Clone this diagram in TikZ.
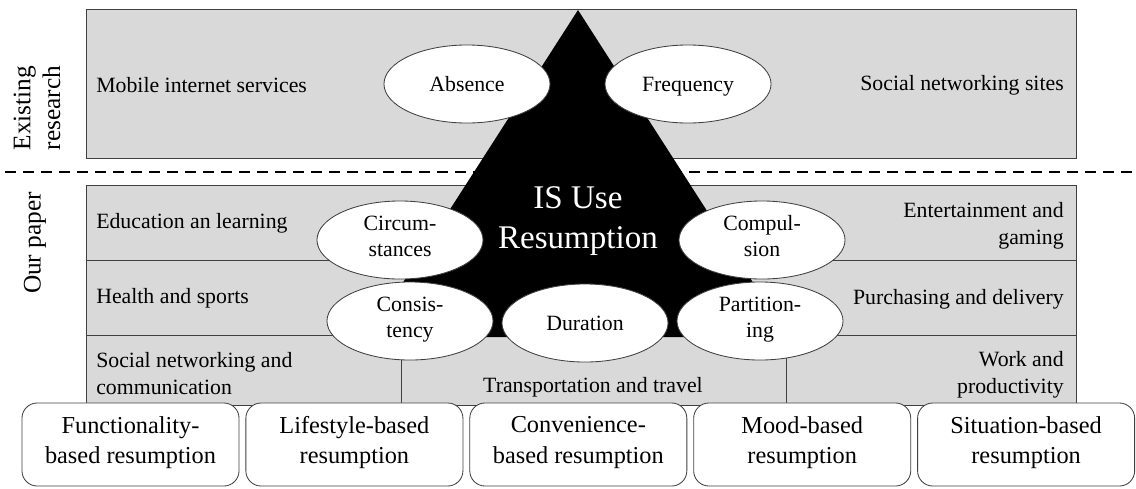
\documentclass[tikz,border=0pt]{standalone}
\usepackage{fontspec}
\setmainfont{Liberation Serif}
\usetikzlibrary{shapes.geometric, positioning}

\begin{document}
\begin{tikzpicture}[x=0.025cm, y=-0.025cm,
		frame/.style={draw=black!75, line width=0.6pt},
		cell/.style={font=\fontsize{15.5}{19.2}\selectfont, inner sep=0pt},
		oval/.style={ellipse, frame, fill=white, minimum width=4.15cm, minimum height=1.95cm, inner sep=0pt, align=center, font=\fontsize{15.5}{18.5}\selectfont, execute at begin node={\rule{0pt}{16pt}}, execute at end node=\strut},
		resbox/.style={frame, fill=white, rounded corners=0.38cm, minimum width=5.425cm, minimum height=2.075cm, inner sep=0pt, align=center, font=\fontsize{17.3}{21.5}\selectfont, execute at begin node={\rule{0pt}{31pt}}, execute at end node=\strut},
		side/.style={rotate=90, align=center, font=\fontsize{18}{21}\selectfont}]
		\useasboundingbox (0,0) rectangle (1136,488);
		% grey fields
		\draw[frame, fill=black!15] (86,9) rectangle (1076,158);
		\draw[frame, fill=black!15] (86,185) rectangle (1076,405);
		\draw[frame] (86,260) -- (1076,260); \draw[frame] (86,335) -- (1076,335);
		\draw[frame] (401,335) -- (401,405); \draw[frame] (786,335) -- (786,405);
		\draw[line width=1.3pt, dash pattern=on 0.275cm off 0.175cm] (5,172) -- (1136,172);
		\node[side] (existing) at (37,108) {Existing\\research};
		\node[side] (ours) at (35,243) {Our paper};

		% pyramid
		\fill (578,10) -- (368,337) -- (788,337) -- cycle;
		\node[white, align=center, font=\fontsize{23.5}{29}\selectfont] (isuse) at (578,221) {IS Use\\Resumption};

		% application areas
		\node[cell, anchor=west] (mobile) at (96,85) {Mobile internet services};
		\node[cell, anchor=east] (sns) at (1064,85) {Social networking sites};
		\node[cell, anchor=west] (edu) at (96,223) {Education an learning};
		\node[cell, anchor=west] (health) at (96,298) {Health and sports};
		\node[cell, anchor=west, align=left] (social) at (96,374) {Social networking and\\communication};
		\node[cell, anchor=east, align=right] (ent) at (1064,226) {Entertainment and\\gaming};
		\node[cell, anchor=east] (purch) at (1064,299) {Purchasing and delivery};
		\node[cell, anchor=east, align=right] (work) at (1064,375) {Work and\\productivity};
		\node[cell] (transp) at (593,387) {Transportation and travel};

		% dimensions
		\node[oval] (absence) at (467,84) {Absence};
		\node[oval] (freq) at (688,84) {Frequency};
		\node[oval] (circ) at (400,240) {Circum-\\stances};
		\node[oval] (comp) at (762,240) {Compul-\\sion};
		\node[oval] (cons) at (410,321) {Consis-\\tency};
		\node[oval] (dur) at (585,323) {Duration};
		\node[oval] (part) at (760,321) {Partition-\\ing};

		% resumption types
		\node[resbox] (func) at (130.5,444.5) {Functionality-\\based resumption};
		\node[resbox, right=0.15cm of func] (life) {Lifestyle-based\\resumption};
		\node[resbox, right=0.15cm of life] (conv) {Convenience-\\based resumption};
		\node[resbox, right=0.15cm of conv] (mood) {Mood-based\\resumption};
		\node[resbox, right=0.15cm of mood] (sit) {Situation-based\\resumption};
\end{tikzpicture}
\end{document}
